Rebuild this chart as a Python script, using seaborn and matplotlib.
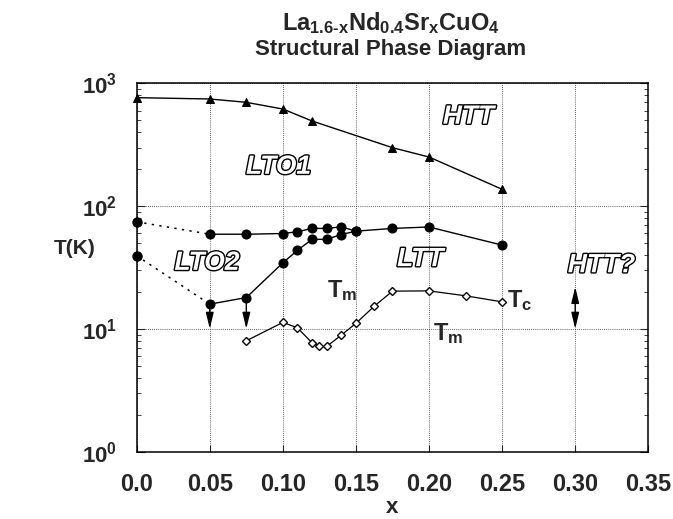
import numpy as np
import pandas as pd
import seaborn as sns
import matplotlib
matplotlib.use("Agg")
import matplotlib.pyplot as plt
import matplotlib.patheffects as pe

# HTT -> LTO1 transition (triangles)
htt_x = [0.0, 0.05, 0.075, 0.10, 0.12, 0.175, 0.20, 0.25]
htt_T = [764, 745, 700, 617, 493, 299, 251, 137]

# LTO1 -> LTT / LTO2 upper boundary (filled circles)
up_x = [0.05, 0.075, 0.10, 0.11, 0.12, 0.13, 0.14, 0.15, 0.175, 0.20, 0.25]
up_T = [59.0, 59.0, 59.8, 61.8, 65.8, 65.8, 67.8, 62.5, 65.8, 67.6, 48.1]

# LTO2 -> LTT lower boundary (filled circles)
lo_x = [0.05, 0.075, 0.10, 0.11, 0.12, 0.13, 0.14, 0.15]
lo_T = [15.9, 18.0, 34.5, 43.7, 53.6, 53.6, 58.7, 62.5]

# x = 0 points joined by dotted lines
zero_T = [74.5, 39.4]

# superconducting Tc (open diamonds)
tc_x = [0.075, 0.10, 0.11, 0.12, 0.125, 0.13, 0.14, 0.15, 0.1625, 0.175, 0.20, 0.225, 0.25]
tc_T = [8.0, 11.3, 10.2, 7.7, 7.2, 7.2, 8.9, 11.1, 15.3, 20.3, 20.4, 18.6, 16.6]

x_ticks = [0.0, 0.05, 0.10, 0.15, 0.20, 0.25, 0.30, 0.35]
x_ticklabels = ["0.0", "0.05", "0.10", "0.15", "0.20", "0.25", "0.30", "0.35"]
y_ticks = [1, 10, 100, 1000]
y_ticklabels = [r"$\mathbf{10^0}$", r"$\mathbf{10^1}$", r"$\mathbf{10^2}$", r"$\mathbf{10^3}$"]

sns.set_style("ticks")
plt.rcParams['font.family'] = ['Liberation Sans', 'DejaVu Sans']
plt.rcParams['font.weight'] = 'bold'
plt.rcParams['mathtext.fontset'] = 'custom'
plt.rcParams['mathtext.rm'] = 'Liberation Sans:bold'
plt.rcParams['mathtext.bf'] = 'Liberation Sans:bold'
plt.rcParams['mathtext.it'] = 'Liberation Sans:bold'
plt.rcParams['mathtext.default'] = 'bf'

fig = plt.figure(figsize=(6.73, 5.19), dpi=100)
ax = fig.add_axes([0.2031, 0.1297, 0.7602, 0.7098])

sns.lineplot(x=htt_x, y=htt_T, ax=ax, color='black', lw=1, marker='^', markersize=6,
             markeredgecolor='black', sort=False, estimator=None, clip_on=False)
sns.lineplot(x=up_x, y=up_T, ax=ax, color='black', lw=1, marker='o', markersize=6.5,
             markeredgecolor='black', sort=False, estimator=None)
sns.lineplot(x=lo_x, y=lo_T, ax=ax, color='black', lw=1, marker='o', markersize=6.5,
             markeredgecolor='black', sort=False, estimator=None)
sns.lineplot(x=tc_x, y=tc_T, ax=ax, color='black', lw=0.9, marker='D', markersize=4.5,
             markerfacecolor='white', markeredgecolor='black', markeredgewidth=1,
             sort=False, estimator=None)

# dotted extrapolation to x = 0
ax.plot([0.0, up_x[0]], [zero_T[0], up_T[0]], color='black', lw=1.1, ls=(0, (1.5, 3.5)))
ax.plot([0.0, lo_x[0]], [zero_T[1], lo_T[0]], color='black', lw=1.1, ls=(0, (1.5, 3.5)))
ax.plot([0.0, 0.0], zero_T, 'o', color='black', markersize=6.5, clip_on=False, zorder=5)

# arrows
arw = dict(arrowstyle='-|>,head_length=0.75,head_width=0.18', color='black', lw=1,
           mutation_scale=13, shrinkA=0, shrinkB=0)
ax.annotate('', xy=(0.05, 10), xytext=(0.05, lo_T[0]), arrowprops=arw)
ax.annotate('', xy=(0.075, 10), xytext=(0.075, lo_T[1]), arrowprops=arw)
ax.annotate('', xy=(0.30, 10), xytext=(0.30, 22),
            arrowprops=dict(arw, arrowstyle='<|-|>,head_length=0.75,head_width=0.18'))

# phase labels (outlined)
outline = [pe.Stroke(linewidth=2.0, foreground='black'), pe.Normal()]
for txt, xx, yy in [("HTT", 0.227, 535), ("LTO1", 0.097, 209), ("LTO2", 0.048, 34.5),
                    ("LTT", 0.194, 37), ("HTT?", 0.318, 33)]:
    ax.text(xx, yy, txt, color='white', fontsize=19, fontweight='bold', style='italic',
            ha='center', va='center', path_effects=outline)

ax.text(0.1404, 20.7, r"$\mathbf{T_m}$", fontsize=17, ha='center', va='center')
ax.text(0.213, 9.2, r"$\mathbf{T_m}$", fontsize=17, ha='center', va='center')
ax.text(0.2535, 17.1, r"$\mathbf{T_c}$", fontsize=17, ha='left', va='center')

ax.set_yscale('log')
ax.set_xlim(0, 0.35)
ax.set_ylim(1, 1000)
ax.set_xticks(x_ticks)
ax.set_xticklabels(x_ticklabels, fontsize=17, fontweight='bold')
ax.set_yticks(y_ticks)
ax.set_yticklabels(y_ticklabels, fontsize=16)
ax.tick_params(axis='x', which='major', direction='in', length=5, pad=15)
ax.tick_params(axis='y', which='both', direction='in', left=True, right=True, pad=14)
ax.tick_params(axis='y', which='major', length=6)
ax.tick_params(axis='y', which='minor', length=3)
ax.grid(True, which='major', color='black', ls=(0, (1, 1.5)), lw=0.6, alpha=0.8)
for s in ax.spines.values():
    s.set_visible(True)
    s.set_linewidth(1.1)
    s.set_color('black')

ax.set_xlabel("x", fontsize=16, fontweight='bold', labelpad=1)
ax.set_ylabel("T(K)", fontsize=15, fontweight='bold', rotation=0)
ax.yaxis.set_label_coords(-0.1206, 0.526)

fig.text(0.581, 0.955, r"$\mathbf{La_{1.6\text{-}x}Nd_{0.4}Sr_xCuO_4}$", fontsize=17,
         ha='center', va='center')
fig.text(0.581, 0.905, "Structural Phase Diagram", fontsize=16, fontweight='bold',
         ha='center', va='center')

fig.savefig("out.png", dpi=100)
